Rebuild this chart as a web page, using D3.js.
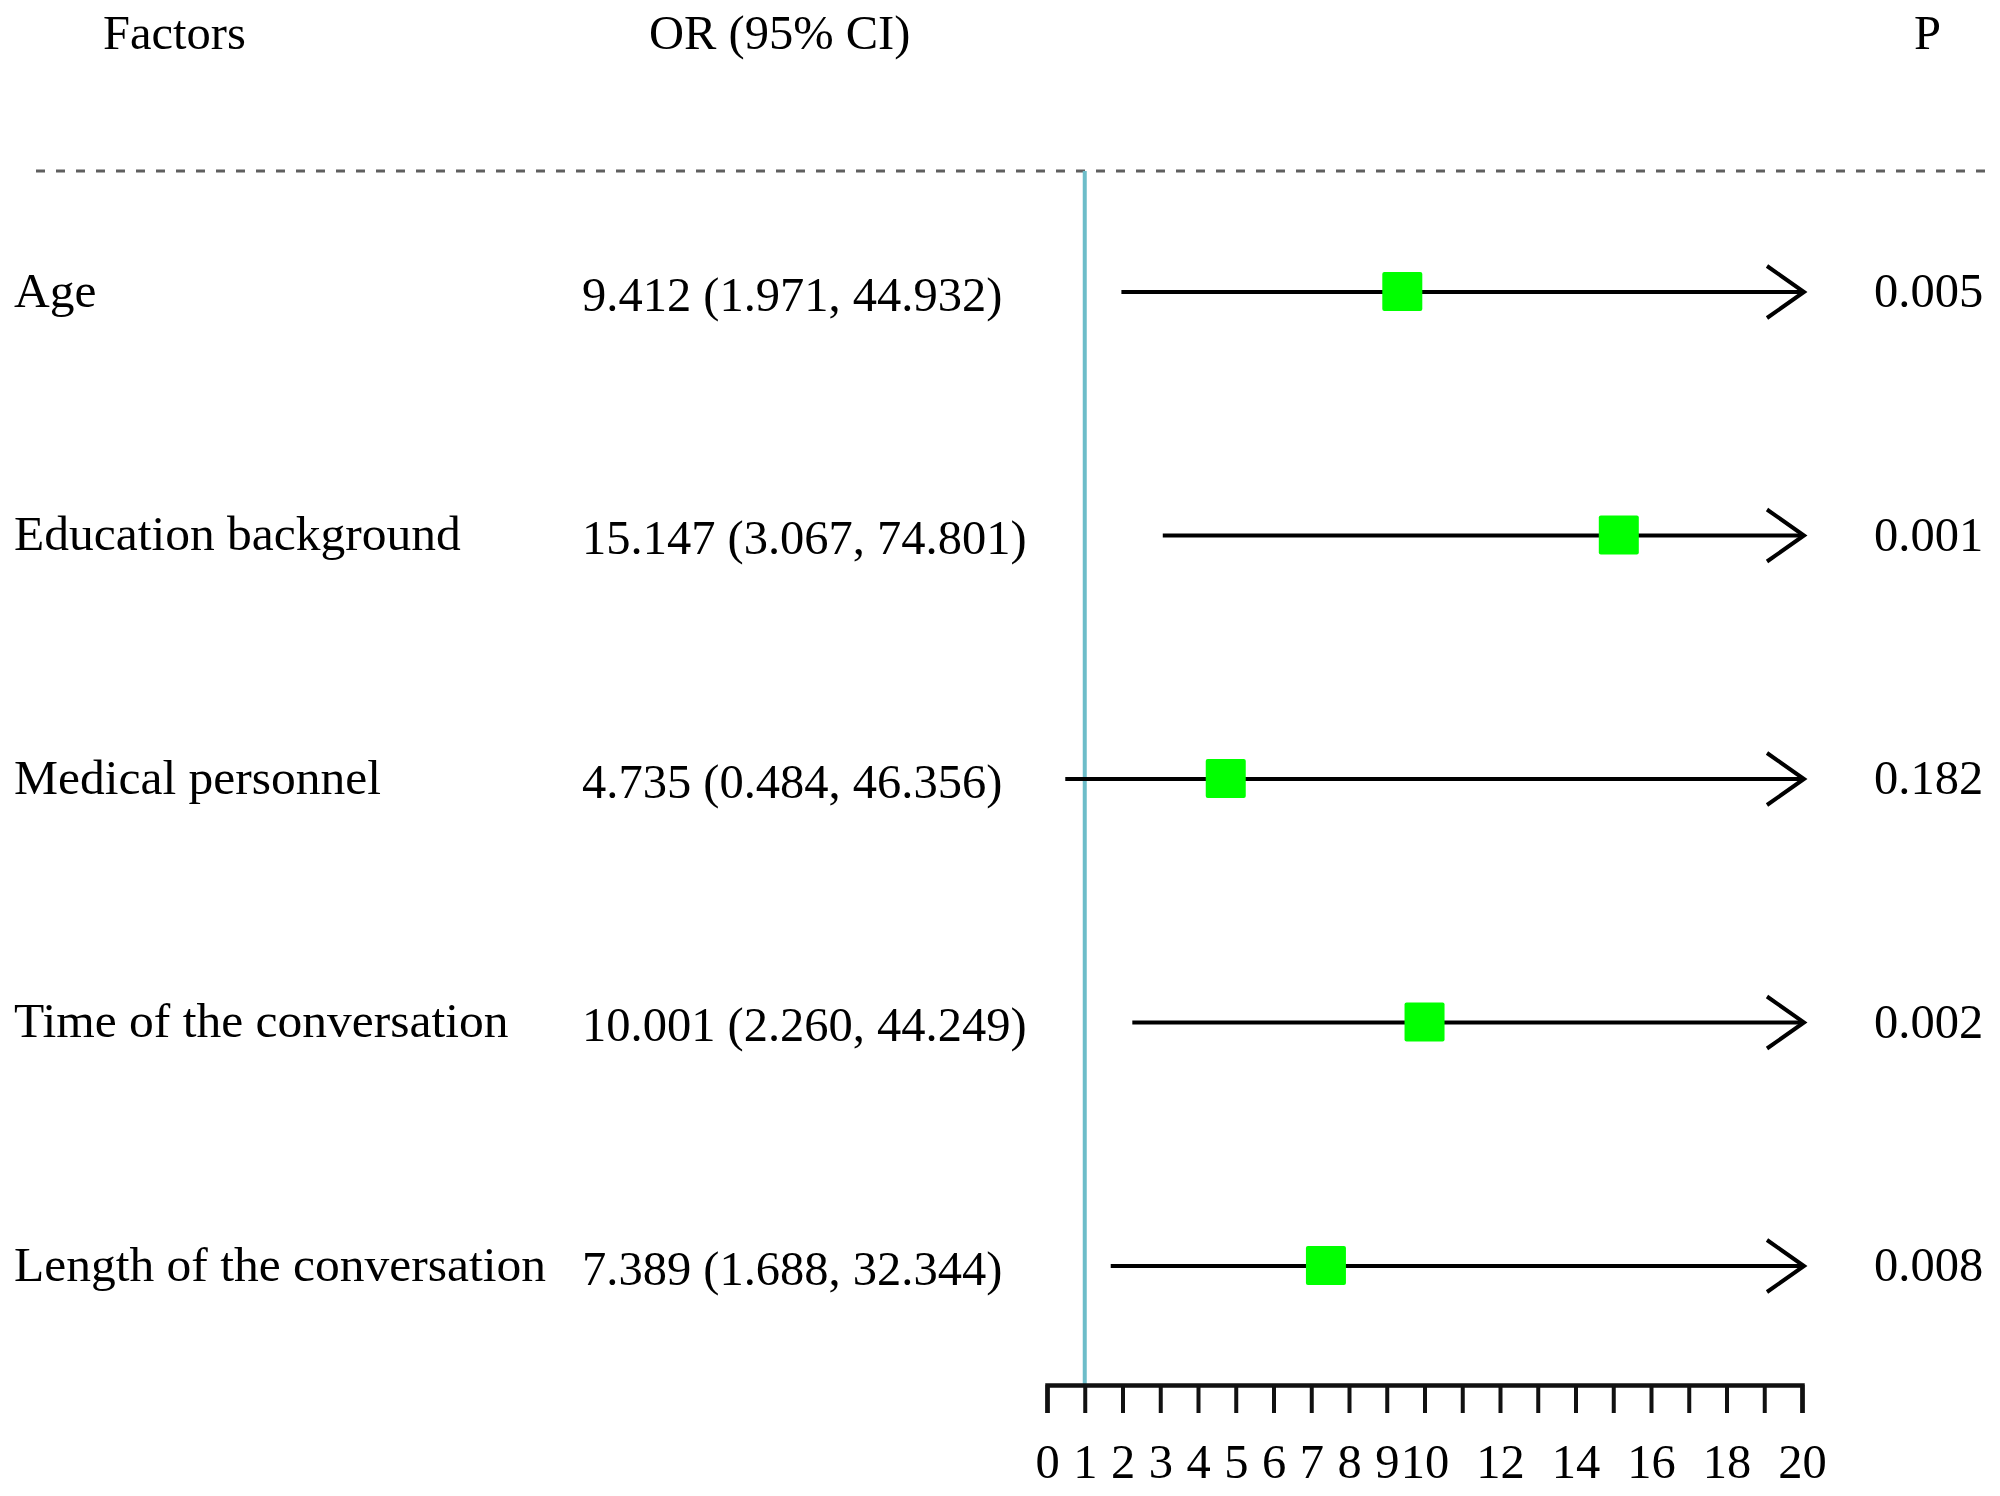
<!DOCTYPE html>
<html>
<head>
<meta charset="utf-8">
<script src="https://cdn.jsdelivr.net/npm/d3@7"></script>
<style>
  html, body { margin: 0; padding: 0; background: #fff; }
  svg { display: block; font-family: "Liberation Serif", "Times New Roman", serif; }
</style>
</head>
<body>
<svg id="chart" width="2000" height="1496"></svg>
<script>
const factors = ["Age", "Education background", "Medical personnel", "Time of the conversation", "Length of the conversation"];
const orValues = [9.412, 15.147, 4.735, 10.001, 7.389];
const ciLower = [1.971, 3.067, 0.484, 2.260, 1.688];
const ciUpper = [44.932, 74.801, 46.356, 44.249, 32.344];
const pValues = ["0.005", "0.001", "0.182", "0.002", "0.008"];
const axisTicks = [0, 1, 2, 3, 4, 5, 6, 7, 8, 9, 10, 11, 12, 13, 14, 15, 16, 17, 18, 19, 20];
const axisLabels = ["0", "1", "2", "3", "4", "5", "6", "7", "8", "9", "10", "", "12", "", "14", "", "16", "", "18", "", "20"];
const headers = ["Factors", "OR (95% CI)", "P"];

const rows = factors.map((f, i) => ({
    id: f, or: orValues[i], lo: ciLower[i], hi: ciUpper[i], p: pValues[i]
}));

const svg = d3.select("#chart");
const fontSize = 48.5;
const x = d3.scaleLinear().domain([0, 20]).range([1047, 1802]);
const y = d3.scalePoint().domain(factors).range([292, 1266]);
const axisY = 1385;

// header row
svg.selectAll("text.header")
    .data(headers)
    .enter().append("text")
    .attr("class", "header")
    .attr("x", (d, i) => [103, 649, 1914][i])
    .attr("y", 49)
    .style("font-size", fontSize + "px")
    .text(d => d);

// dashed separator
svg.append("line")
    .attr("x1", 36).attr("x2", 1990)
    .attr("y1", 171).attr("y2", 171)
    .attr("stroke", "#5f5f5f")
    .attr("stroke-width", 3)
    .attr("stroke-dasharray", "9 11");

// reference line at OR = 1
svg.append("line")
    .attr("x1", x(1)).attr("x2", x(1))
    .attr("y1", 171).attr("y2", axisY)
    .attr("stroke", "#6dbdc9")
    .attr("stroke-width", 4);

// axis
const axis = d3.axisBottom(x)
    .tickValues(axisTicks)
    .tickFormat((d, i) => axisLabels[i])
    .tickSizeInner(28)
    .tickSizeOuter(28)
    .tickPadding(31);

const gAxis = svg.append("g")
    .attr("transform", "translate(0," + axisY + ")")
    .call(axis);
gAxis.select(".domain").attr("stroke", "#111").attr("stroke-width", 4.5);
gAxis.selectAll(".tick line").attr("stroke", "#111").attr("stroke-width", 4);
gAxis.selectAll(".tick text")
    .attr("fill", "#000")
    .style("font-family", "\"Liberation Serif\", \"Times New Roman\", serif")
    .style("font-size", fontSize + "px");

// rows
const g = svg.selectAll("g.row")
    .data(rows)
    .enter().append("g")
    .attr("class", "row")
    .attr("transform", d => "translate(0," + y(d.id) + ")");

g.append("text")
    .attr("x", 14)
    .attr("y", 14.5)
    .style("font-size", "49.5px")
    .text(d => d.id);

g.append("text")
    .attr("x", 582)
    .attr("y", 18.5)
    .style("font-size", fontSize + "px")
    .text(d => d.or.toFixed(3) + " (" + d.lo.toFixed(3) + ", " + d.hi.toFixed(3) + ")");

g.append("text")
    .attr("x", 1874)
    .attr("y", 15)
    .style("font-size", fontSize + "px")
    .text(d => d.p);

// CI line, clipped at the axis maximum with an open arrow
g.append("line")
    .attr("x1", d => x(Math.max(0, d.lo)))
    .attr("x2", d => x(Math.min(20, d.hi)) + 1)
    .attr("y1", 0).attr("y2", 0)
    .attr("stroke", "#000")
    .attr("stroke-width", 4);

g.filter(d => d.hi > 20).append("path")
    .attr("d", d => {
        const tip = x(20) + 2;
        return "M" + (tip - 37) + ",-26L" + tip + ",0L" + (tip - 37) + ",26";
    })
    .attr("fill", "none")
    .attr("stroke", "#000")
    .attr("stroke-width", 4);

g.append("rect")
    .attr("x", d => x(d.or) - 20)
    .attr("y", -20)
    .attr("width", 40)
    .attr("height", 39)
    .attr("rx", 2)
    .attr("fill", "#00ff00");
</script>
</body>
</html>
